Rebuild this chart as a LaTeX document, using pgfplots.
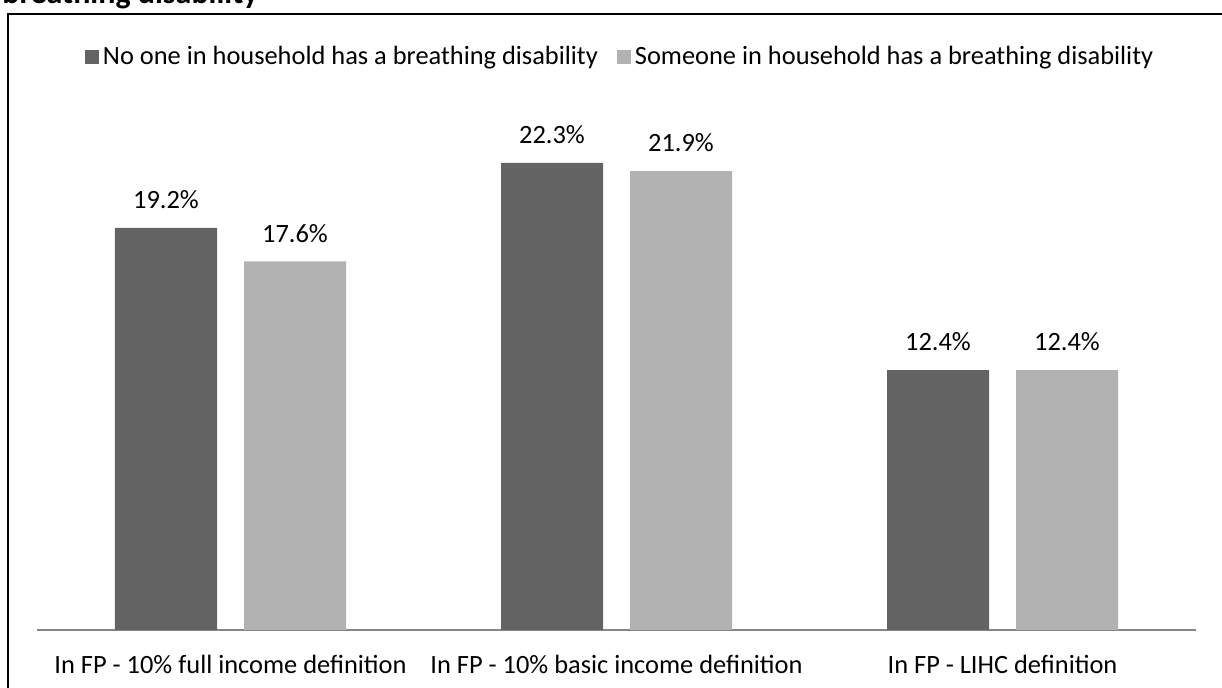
\documentclass[border=0pt]{standalone}
\usepackage{pgfplots}
\pgfplotsset{compat=1.18}
\usepackage{fontspec}
\setmainfont{Carlito}
\definecolor{darkbar}{RGB}{99,99,99}
\definecolor{lightbar}{RGB}{178,178,178}
\definecolor{axisgray}{RGB}{134,134,134}
\begin{document}
\begin{tikzpicture}
\useasboundingbox (-18.75pt,-29pt) rectangle (592.25pt,315pt);
\clip (-18.75pt,-29pt) rectangle (592.25pt,315pt);
\node[anchor=base west, inner sep=0, font=\fontsize{16}{18}\selectfont\bfseries] at (-17.75pt,313pt) {breathing disability};
\draw[line width=1pt] (-14.5pt,-40pt) -- (-14.5pt,307.75pt) -- (610pt,307.75pt);
\begin{axis}[
  scale only axis, width=579pt, height=265pt,
  xmin=-0.5, xmax=2.5, ymin=0, ymax=25.3,
  ybar, bar width=51pt,
  clip=false,
  hide y axis,
  axis x line*=bottom,
  x axis line style={draw=axisgray, line width=1pt, -},
  xtick={0,1,2},
  xticklabels={In FP - 10\% full income definition, In FP - 10\% basic income definition, In FP - LIHC definition},
  major tick length=0pt,
  x tick label style={font=\fontsize{13.2}{15}\selectfont, yshift=-9pt},
  /pgf/number format/assume math mode=true,
  nodes near coords={\pgfmathprintnumber[fixed,precision=1,fixed zerofill]{\pgfplotspointmeta}\%},
  every node near coord/.append style={font=\fontsize{13.2}{15}\selectfont, text=black, yshift=6pt},
  legend style={at={(0.504,1.081)}, anchor=center, draw=none, fill=none, font=\fontsize{13.2}{15}\selectfont, legend columns=2, /tikz/every even column/.append style={column sep=7.5pt}},
  legend image code/.code={\fill[#1] (0pt,-3.5pt) rectangle (7pt,3.5pt);},
]
\addplot[fill=darkbar, draw=none, bar shift=-32.25pt] coordinates {(0,19.2) (1,22.3) (2,12.4)};
\addplot[fill=lightbar, draw=none, bar shift=32.25pt] coordinates {(0,17.6) (1,21.9) (2,12.4)};
\legend{No one in household has a breathing disability, Someone in household has a breathing disability}
\end{axis}
\end{tikzpicture}
\end{document}
